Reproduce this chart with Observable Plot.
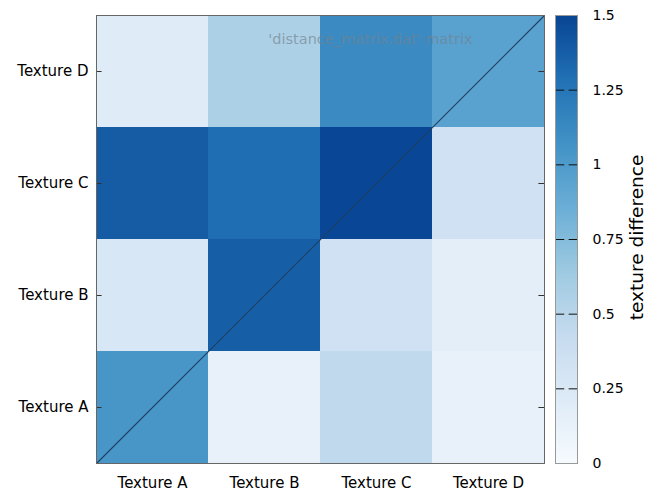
<!DOCTYPE html>
<html>
<head>
<meta charset="utf-8">
<script src="https://cdn.jsdelivr.net/npm/d3@7"></script>
<script src="https://cdn.jsdelivr.net/npm/@observablehq/plot@0.6"></script>
<style>
  html, body { margin: 0; padding: 0; background: #fff; }
  #wrap { position: relative; width: 648px; height: 494px; }
  #wrap svg { position: absolute; left: 0; top: 0; }
</style>
</head>
<body>
<div id="wrap"></div>
<script>
// ---- data ----
const textures = ["Texture A", "Texture B", "Texture C", "Texture D"];
// rows indexed by y (bottom to top), values by x (A..D)
const rowA = [1.04, 0.13, 0.455, 0.13];
const rowB = [0.27, 1.38, 0.35, 0.17];
const rowC = [1.39, 1.305, 1.49, 0.35];
const rowD = [0.21, 0.57, 1.12, 0.95];
const rows = [rowA, rowB, rowC, rowD];
const cbTicks = [0, 0.25, 0.5, 0.75, 1, 1.25, 1.5];
const cbTickLabels = ["0", "0.25", "0.5", "0.75", "1", "1.25", "1.5"];
const palette = ["#F7FBFF", "#DEEBF7", "#C6DBEF", "#9ECAE1", "#6BAED6", "#4292C6", "#2171B5", "#084594"];
const cbMax = 1.5;
const keyText = "'distance_matrix.dat' matrix";
const cbLabel = "texture difference";

const stops = palette.map((_, i) => i * cbMax / (palette.length - 1));
const cells = [];
rows.forEach((r, yi) => r.forEach((v, xi) => cells.push({x: xi, y: yi, v})));
const idx = textures.map((_, i) => i);
const lim = [-0.5, textures.length - 0.5];
const diag = lim.map(d => ({x: d, y: d}));
const colorOpt = {type: "linear", domain: stops, range: palette, interpolate: "rgb"};
const font = {fontFamily: "DejaVu Sans", fontSize: "15px", background: "transparent"};

const main = Plot.plot({
  width: 648, height: 494,
  marginLeft: 96, marginRight: 104, marginTop: 15, marginBottom: 31,
  style: font,
  x: {domain: lim},
  y: {domain: lim},
  color: colorOpt,
  marks: [
    Plot.rect(cells, {x1: d => d.x - 0.5, x2: d => d.x + 0.5, y1: d => d.y - 0.5, y2: d => d.y + 0.5, fill: "v", inset: 0}),
    Plot.line(diag, {x: "x", y: "y", stroke: "#203f62", strokeWidth: 1.1}),
    Plot.ruleY(idx, {y: d => d, x1: lim[0], x2: lim[0] + 0.05, stroke: "#333"}),
    Plot.ruleY(idx, {y: d => d, x1: lim[1] - 0.05, x2: lim[1], stroke: "#333"}),
    Plot.axisX({ticks: idx, tickFormat: i => textures[i], tickSize: 0, tickPadding: 14, label: null, fontSize: 15, fill: "#000"}),
    Plot.axisY({ticks: idx, tickFormat: i => textures[i], tickSize: 0, tickPadding: 8, label: null, fontSize: 15, fill: "#000"}),
    Plot.frame({stroke: "#666"}),
    Plot.text([keyText], {frameAnchor: "top", textAnchor: "end", dx: 152, dy: 18, fill: "#75808c", fillOpacity: 0.65, fontSize: 14.5})
  ]
});

const bar = Plot.plot({
  width: 648, height: 494,
  marginLeft: 555, marginRight: 71, marginTop: 15, marginBottom: 31,
  style: font,
  x: {domain: [0, 1], axis: null},
  y: {domain: [0, cbMax]},
  color: colorOpt,
  marks: [
    Plot.raster({x1: 0, x2: 1, y1: 0, y2: cbMax, width: 1, height: 448, fill: (x, y) => y, imageRendering: "auto"}),
    Plot.ruleY(cbTicks, {y: d => d, x1: 0, x2: 0.42, stroke: "#111"}),
    Plot.ruleY(cbTicks, {y: d => d, x1: 0.62, x2: 1, stroke: "#111"}),
    Plot.frame({stroke: "#999"}),
    Plot.axisY({anchor: "right", ticks: cbTicks, tickFormat: (d, i) => cbTickLabels[i], tickSize: 0, tickPadding: 15, label: null, fontSize: 14, fill: "#000"}),
    Plot.text([cbLabel], {frameAnchor: "right", textAnchor: "middle", dx: 60, dy: -2, rotate: -90, fontSize: 18.5, fill: "#000"})
  ]
});

const wrap = document.getElementById("wrap");
wrap.appendChild(main);
wrap.appendChild(bar);
</script>
</body>
</html>
